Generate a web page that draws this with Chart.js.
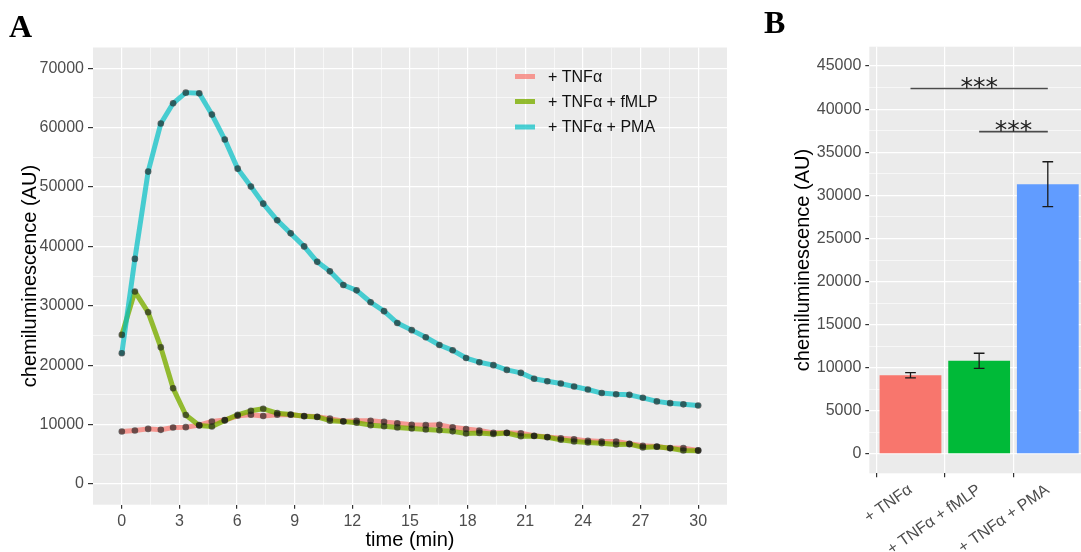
<!DOCTYPE html>
<html><head><meta charset="utf-8">
<script src="https://cdn.jsdelivr.net/npm/chart.js@4.4.1/dist/chart.umd.min.js"></script>
<style>
html,body{margin:0;padding:0;background:#fff;overflow:hidden;width:1081px;height:552px;}
#wrap{position:relative;width:1081px;height:552px;overflow:hidden;}
canvas{position:absolute;top:0;}
#cA{left:0;} #cB{left:740px;}
.lab{position:absolute;font:bold 32px "Liberation Serif","DejaVu Serif",serif;color:#000;line-height:1;}
</style></head><body>
<div id="wrap">
<canvas id="cA" width="740" height="552"></canvas>
<canvas id="cB" width="360" height="552"></canvas>
<div class="lab" style="left:9px;top:10px">A</div>
<div class="lab" style="left:764px;top:6px">B</div>
</div>
<script>
// ---------- Panel A data ----------
const time = [0, 0.68, 1.37, 2.03, 2.67, 3.33, 4.03, 4.69, 5.36, 6.03, 6.72, 7.36, 8.09, 8.79, 9.49, 10.17, 10.83, 11.53, 12.22, 12.95, 13.65, 14.34, 15.09, 15.82, 16.53, 17.22, 17.92, 18.61, 19.34, 20.04, 20.77, 21.46, 22.15, 22.85, 23.54, 24.26, 24.98, 25.73, 26.42, 27.12, 27.85, 28.54, 29.23, 30];
const tnf = [8820, 8990, 9270, 9110, 9490, 9560, 9900, 10510, 10750, 11470, 11640, 11450, 11640, 11650, 11450, 11300, 11000, 10550, 10650, 10650, 10450, 10230, 9950, 9900, 9950, 9530, 9250, 8990, 8600, 8600, 8540, 8120, 7890, 7700, 7530, 7250, 7130, 7130, 6750, 6430, 6300, 6030, 6020, 5650];
const fmlp = [25100, 32400, 28900, 23000, 16100, 11600, 9850, 9660, 10700, 11640, 12310, 12650, 11920, 11700, 11400, 11280, 10650, 10510, 10290, 9900, 9720, 9520, 9330, 9160, 9050, 8850, 8480, 8590, 8400, 8580, 8030, 8060, 7860, 7450, 7150, 6980, 6860, 6650, 6700, 6150, 6270, 6000, 5620, 5600];
const pma = [22000, 37900, 52600, 60700, 64100, 65900, 65800, 62200, 58000, 53100, 50100, 47200, 44400, 42200, 40000, 37400, 35800, 33500, 32600, 30600, 29100, 27100, 25900, 24700, 23400, 22500, 21200, 20500, 20000, 19200, 18700, 17700, 17300, 16900, 16400, 15900, 15300, 15100, 15000, 14500, 13900, 13600, 13400, 13200];
const seriesLabels = ['+ TNF\u03b1', '+ TNF\u03b1 + fMLP', '+ TNF\u03b1 + PMA'];
const xTickLabelsA = [0, 3, 6, 9, 12, 15, 18, 21, 24, 27, 30];
const yTickLabelsA = [0, 10000, 20000, 30000, 40000, 50000, 60000, 70000];

// ---------- Panel B data ----------
const categoriesB = ['+ TNF\u03b1', '+ TNF\u03b1 + fMLP', '+ TNF\u03b1 + PMA'];
const meansB = [9130, 10800, 31300];
const errorsB = [310, 880, 2600];
const yTickLabelsB = [0, 5000, 10000, 15000, 20000, 25000, 30000, 35000, 40000, 45000];
const sigPairs = [[0, 2], [1, 2]];
const sigHeights = [42400, 37400];
const sigLabels = ['***', '***'];

// ---------- style ----------
const FONT = "'Liberation Sans', Arial, sans-serif";
const lineColors = ['rgba(248,118,109,0.72)', 'rgba(124,174,0,0.8)', 'rgba(0,191,196,0.7)'];
const barColors = ['#F8766D', '#00BA38', '#619CFF'];
const PANEL = '#EBEBEB';
const TICKCOL = '#4D4D4D';

const panelBg = {
  id: 'panelBg',
  beforeDraw(chart) {
    const {ctx, chartArea: a} = chart;
    ctx.save(); ctx.fillStyle = PANEL;
    ctx.fillRect(a.left, a.top, a.right - a.left, a.bottom - a.top);
    ctx.restore();
  }
};

function steps(a, b, s) { const r = []; for (let v = a; v <= b + 1e-9; v += s) r.push(+v.toFixed(4)); return r; }

// ---------- Chart A ----------
const seriesA = [tnf, fmlp, pma];
const dsA = [];
seriesA.forEach((arr, k) => {
  dsA.push({
    label: seriesLabels[k],
    data: time.map((t, i) => ({x: t, y: arr[i]})),
    borderColor: lineColors[k], borderWidth: 5, pointRadius: 0, tension: 0,
    borderCapStyle: 'round', borderJoinStyle: 'round', fill: false, order: 10 - k
  });
});
seriesA.forEach((arr, k) => {
  dsA.push({
    label: 'pts' + k,
    data: time.map((t, i) => ({x: t, y: arr[i]})),
    showLine: false, pointRadius: 3.3, pointBorderWidth: 0,
    pointBackgroundColor: 'rgba(25,25,25,0.62)', order: 3 - k
  });
});

const legendA = {
  id: 'legendA',
  afterDraw(chart) {
    const ctx = chart.ctx;
    ctx.save();
    const ys = [76.5, 101.5, 127];
    seriesLabels.forEach((lab, k) => {
      ctx.strokeStyle = lineColors[k]; ctx.lineWidth = 5; ctx.lineCap = 'butt';
      ctx.beginPath(); ctx.moveTo(515, ys[k]); ctx.lineTo(535, ys[k]); ctx.stroke();
      ctx.fillStyle = '#111'; ctx.font = '16px ' + FONT; ctx.textBaseline = 'middle'; ctx.textAlign = 'left';
      ctx.fillText(lab, 548, ys[k] + 1);
    });
    ctx.restore();
  }
};

new Chart(document.getElementById('cA'), {
  type: 'line',
  data: {datasets: dsA},
  options: {
    responsive: false, animation: false, devicePixelRatio: 1,
    layout: {padding: {top: 47.5, right: 13, left: 0, bottom: 0}},
    plugins: {legend: {display: false}, tooltip: {enabled: false}},
    scales: {
      x: {
        type: 'linear', min: -1.5, max: 31.5,
        afterBuildTicks: s => { s.ticks = steps(0, 30, 1.5).map(v => ({value: v})); },
        afterFit: s => { s.height = 552 - 504.7; },
        ticks: {autoSkip: false, maxRotation: 0, color: TICKCOL, font: {family: FONT, size: 16}, padding: 3,
          callback: v => xTickLabelsA.includes(v) ? String(v) : ''},
        grid: {color: '#fff', lineWidth: c => xTickLabelsA.includes(c.tick && c.tick.value) ? 1.2 : 0.6,
          tickColor: c => xTickLabelsA.includes(c.tick && c.tick.value) ? '#333' : 'rgba(0,0,0,0)', tickLength: 4},
        border: {display: false},
        title: {display: true, text: 'time (min)', color: '#000', font: {family: FONT, size: 20}, padding: {top: 0, bottom: 0}}
      },
      y: {
        type: 'linear', min: -3500, max: 73500,
        afterBuildTicks: s => { s.ticks = steps(0, 70000, 5000).map(v => ({value: v})); },
        afterFit: s => { s.width = 93; },
        ticks: {autoSkip: false, color: TICKCOL, font: {family: FONT, size: 16}, padding: 4,
          callback: v => yTickLabelsA.includes(v) ? String(v) : ''},
        grid: {color: '#fff', lineWidth: c => yTickLabelsA.includes(c.tick && c.tick.value) ? 1.2 : 0.6,
          tickColor: c => yTickLabelsA.includes(c.tick && c.tick.value) ? '#333' : 'rgba(0,0,0,0)', tickLength: 5},
        border: {display: false},
        title: {display: true, text: 'chemiluminescence (AU)', color: '#000', font: {family: FONT, size: 20}, padding: {top: 18, bottom: 0}}
      }
    }
  },
  plugins: [panelBg, legendA]
});

// ---------- Chart B ----------
const extrasB = {
  id: 'extrasB',
  afterDatasetsDraw(chart) {
    const {ctx, scales: {x, y}} = chart;
    ctx.save();
    // error bars
    ctx.strokeStyle = '#1a1a1a'; ctx.lineWidth = 1.3;
    meansB.forEach((m, i) => {
      const cx = x.getPixelForValue(i);
      const hw = x.getPixelForValue(0.078) - x.getPixelForValue(0);
      const yt = y.getPixelForValue(m + errorsB[i]), yb = y.getPixelForValue(m - errorsB[i]);
      ctx.beginPath();
      ctx.moveTo(cx, yt); ctx.lineTo(cx, yb);
      ctx.moveTo(cx - hw, yt); ctx.lineTo(cx + hw, yt);
      ctx.moveTo(cx - hw, yb); ctx.lineTo(cx + hw, yb);
      ctx.stroke();
    });
    // significance brackets
    sigPairs.forEach((p, k) => {
      const x1 = x.getPixelForValue(p[0]), x2 = x.getPixelForValue(p[1]);
      const yy = y.getPixelForValue(sigHeights[k]);
      ctx.strokeStyle = '#4a4a4a'; ctx.lineWidth = 1.6;
      ctx.beginPath(); ctx.moveTo(x1, yy); ctx.lineTo(x2, yy); ctx.stroke();
      ctx.fillStyle = '#222'; ctx.font = "25px 'DejaVu Sans', sans-serif";
      ctx.textAlign = 'center'; ctx.textBaseline = 'alphabetic';
      ctx.fillText(sigLabels[k], (x1 + x2) / 2, yy + 6.5);
    });
    ctx.restore();
  }
};

new Chart(document.getElementById('cB'), {
  type: 'bar',
  data: {datasets: [{
    label: 'mean',
    data: categoriesB.map((c, i) => ({x: i, y: meansB[i]})),
    backgroundColor: barColors, borderWidth: 0,
    barPercentage: 0.9, categoryPercentage: 1.0
  }]},
  options: {
    responsive: false, animation: false, devicePixelRatio: 1,
    layout: {padding: {top: 46.7, right: 11, left: 0, bottom: 0}},
    plugins: {legend: {display: false}, tooltip: {enabled: false}},
    scales: {
      x: {
        type: 'linear', min: -0.6, max: 2.6, offset: false,
        afterBuildTicks: s => { s.ticks = [0, 1, 2].map(v => ({value: v})); },
        afterFit: s => { s.height = 552 - 473.3; },
        ticks: {autoSkip: false, minRotation: 35, maxRotation: 35, color: TICKCOL, font: {family: FONT, size: 16}, padding: 3,
          callback: v => categoriesB[v] !== undefined ? categoriesB[v] : ''},
        grid: {color: '#fff', lineWidth: 1.2, tickColor: '#333', tickLength: 4},
        border: {display: false}
      },
      y: {
        type: 'linear', min: -2250, max: 47250,
        afterBuildTicks: s => { s.ticks = steps(0, 45000, 2500).map(v => ({value: v})); },
        afterFit: s => { s.width = 129.3; },
        ticks: {autoSkip: false, color: TICKCOL, font: {family: FONT, size: 16}, padding: 4,
          callback: v => yTickLabelsB.includes(v) ? String(v) : ''},
        grid: {color: '#fff', lineWidth: c => yTickLabelsB.includes(c.tick && c.tick.value) ? 1.2 : 0.6,
          tickColor: c => yTickLabelsB.includes(c.tick && c.tick.value) ? '#333' : 'rgba(0,0,0,0)', tickLength: 4},
        border: {display: false},
        title: {display: true, text: 'chemiluminescence (AU)', color: '#000', font: {family: FONT, size: 20}, padding: {top: 51, bottom: 0}}
      }
    }
  },
  plugins: [panelBg, extrasB]
});
</script>
</body></html>
